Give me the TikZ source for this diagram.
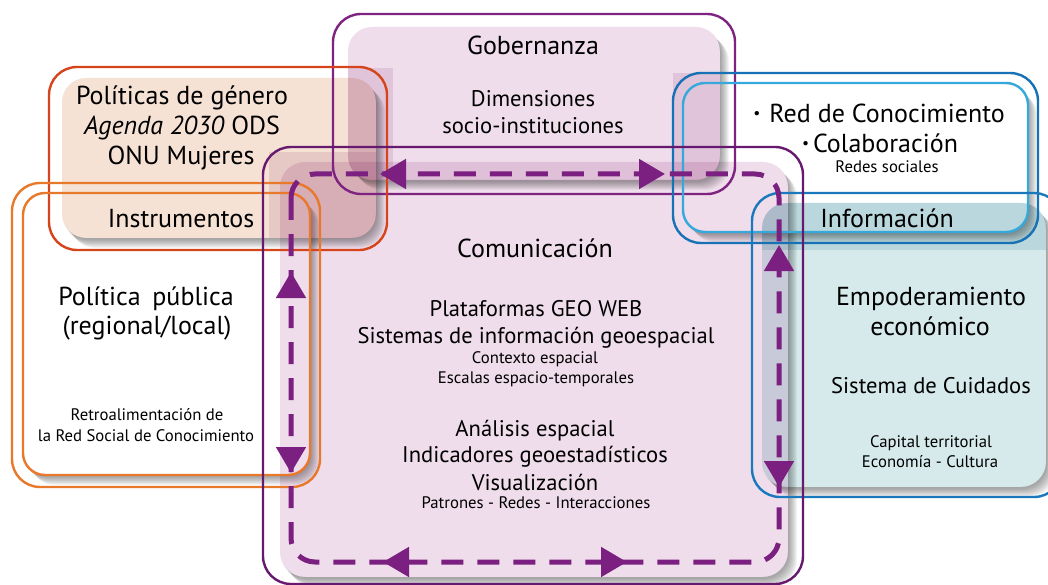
\documentclass[tikz,border=0pt]{standalone}
\usepackage{fontspec}
\setmainfont{PT Sans}
\usetikzlibrary{arrows.meta}
\definecolor{gobc}{HTML}{7E2480}
\definecolor{comc}{HTML}{67196F}
\definecolor{dashc}{HTML}{7B1F80}
\definecolor{lav}{HTML}{EFDDEB}
\definecolor{peach}{HTML}{F5E2D5}
\definecolor{redor}{HTML}{D5441A}
\definecolor{orng}{HTML}{E8782A}
\definecolor{dblue}{HTML}{1771B5}
\definecolor{lblue}{HTML}{35A9DC}
\definecolor{mblue}{HTML}{1A78BC}
\definecolor{tealf}{HTML}{D6EAEC}
\definecolor{lavtint}{HTML}{F0E3ED}
\definecolor{tealtint}{HTML}{DDEBEE}
\newcommand\myshadow[3]{%
  \begin{scope}[even odd rule, rounded corners=#1]
  \clip (-100,-100) rectangle (1200,700) #2 rectangle #3;
  \foreach \k in {1,...,9}{
    \fill[black,fill opacity=.045,transform canvas={shift={(\k pt,-\k pt-1pt)}}] #2 rectangle #3;
  }
  \end{scope}}
\tikzset{
  frame/.style={line width=2.4pt},
  big/.style={font=\fontsize{26}{30}\selectfont, anchor=base, inner sep=0pt},
  med/.style={font=\fontsize{22.6}{26}\selectfont, anchor=base, inner sep=0pt},
  sml/.style={font=\fontsize{16.7}{19}\selectfont, anchor=base, inner sep=0pt},
  loop/.style={dashc, line width=5pt, dash pattern=on 22pt off 14pt, rounded corners=24pt},
  tipar/.style={dashc, line width=5pt, -{Triangle[length=26pt,width=29pt]}},
}
\newcommand\bul{\raisebox{4pt}{\scalebox{0.6}{•}}}
\begin{document}
\begin{tikzpicture}[x=1pt,y=-1pt]
\useasboundingbox (0,0) rectangle (1048,585);
\fill[white] (0,0) rectangle (1048,585);

% white boxes
\fill[white,rounded corners=22pt] (23,193) rectangle (310,475);
\fill[white,rounded corners=22pt] (683,83) rectangle (1028,232);

% shadows
\myshadow{22pt}{(23,193)}{(310,475)}
\myshadow{22pt}{(683,83)}{(1028,232)}
\myshadow{24pt}{(348,27)}{(720,180)}
\myshadow{24pt}{(62,78)}{(376,238)}
\myshadow{25pt}{(280,162)}{(788,577)}
\myshadow{25pt}{(762,203)}{(1046,487)}

% coloured fills (multiplied)
\begin{scope}[blend mode=multiply]
\fill[lav,rounded corners=24pt] (348,27) rectangle (720,180);
\fill[peach,rounded corners=24pt] (62,78) rectangle (376,238);
\fill[lav,rounded corners=25pt] (280,162) rectangle (788,577);
\fill[tealf,rounded corners=25pt] (762,203) rectangle (1046,487);
\begin{scope}[rounded corners=24pt]
\clip (348,27) rectangle (720,180);
\fill[lavtint,sharp corners] (347,68) rectangle (393,200);
\fill[lavtint,sharp corners] (673,73) rectangle (730,200);
\end{scope}
\begin{scope}[rounded corners=24pt]
\clip (62,78) rectangle (376,238);
\fill[lavtint,sharp corners] (269,152) rectangle (400,260);
\end{scope}
\begin{scope}[rounded corners=25pt]
\clip (762,203) rectangle (1046,487);
\fill[tealtint,sharp corners] (673,73) rectangle (1046,250);
\end{scope}
\end{scope}

% outlines
\draw[frame,gobc,rounded corners=28pt] (333,14) rectangle (735,194);
\draw[frame,redor,rounded corners=28pt] (49,67) rectangle (387,250);
\draw[frame,orng,rounded corners=28pt] (12,183) rectangle (320,487);
\draw[frame,orng,rounded corners=22pt] (23,193) rectangle (310,475);
\draw[frame,dblue,rounded corners=28pt] (673,73) rectangle (1038,243);
\draw[frame,lblue,rounded corners=22pt] (683,83) rectangle (1028,232);
\draw[frame,mblue,rounded corners=28pt] (752,193) rectangle (1062,497);
\draw[frame,comc,rounded corners=28pt] (263,147) rectangle (803,584);

% dashed loop
\draw[loop] (291,174) rectangle (779,562);

% arrow coordinates
\coordinate (tls) at (406,174); \coordinate (tlt) at (380,174);
\coordinate (trs) at (639,174); \coordinate (trt) at (665,174);
\coordinate (lus) at (291,298); \coordinate (lut) at (291,272);
\coordinate (lds) at (291,447); \coordinate (ldt) at (291,473);
\coordinate (rus) at (779,271); \coordinate (rut) at (779,245);
\coordinate (rds) at (779,461); \coordinate (rdt) at (779,487);
\coordinate (bls) at (409,562); \coordinate (blt) at (383,562);
\coordinate (brs) at (601,562); \coordinate (brt) at (627,562);
\draw[tipar] (tls) -- (tlt);
\draw[tipar] (trs) -- (trt);
\draw[tipar] (lus) -- (lut);
\draw[tipar] (lds) -- (ldt);
\draw[tipar] (rus) -- (rut);
\draw[tipar] (rds) -- (rdt);
\draw[tipar] (bls) -- (blt);
\draw[tipar] (brs) -- (brt);

% texts
\node[big] (gob) at (533,55) {Gobernanza};
\node[med] (dim1) at (533,107) {Dimensiones};
\node[med] (dim2) at (533,134) {socio-instituciones};

\node[big] (pol1) at (182,105) {Políticas de género};
\node[big] (pol2) at (182,135) {\textit{Agenda 2030} ODS};
\node[big] (pol3) at (181,165) {ONU Mujeres};
\node[big] (ins) at (181,228) {Instrumentos};

\node[big] (pp1) at (146,305) {Política\hspace{0.45em}pública};
\node[big] (pp2) at (147,334) {(regional/local)};
\node[sml] (ret1) at (147,420) {Retroalimentación de};
\node[sml] (ret2) at (146,441) {la Red Social de Conocimiento};

\node[big] (red1) at (879,123) {\bul\hspace{0.35em}Red de Conocimiento};
\node[big] (red2) at (880,153) {\bul\hspace{0.15em}Colaboración};
\node[sml] (red3) at (887,173) {Redes sociales};
\node[big] (info) at (887,227) {Información};

\node[big] (com) at (535,257) {Comunicación};
\node[med] (pla1) at (536,316) {Plataformas GEO WEB};
\node[med] (pla2) at (536,343) {Sistemas de información geoespacial};
\node[sml] (pla3) at (535,363) {Contexto espacial};
\node[sml] (pla4) at (536,383) {Escalas espacio-temporales};
\node[med] (ana1) at (535,436) {Análisis espacial};
\node[med] (ana2) at (535,462) {Indicadores geoestadísticos};
\node[med] (ana3) at (535,490) {Visualización};
\node[sml] (ana4) at (536,508) {Patrones - Redes - Interacciones};

\node[big] (emp1) at (931,305) {Empoderamiento};
\node[big] (emp2) at (930,335) {económico};
\node[med] (emp3) at (931,393) {Sistema de Cuidados};
\node[sml] (emp4) at (931,447) {Capital territorial};
\node[sml] (emp5) at (930,467) {Economía - Cultura};
\end{tikzpicture}
\end{document}
